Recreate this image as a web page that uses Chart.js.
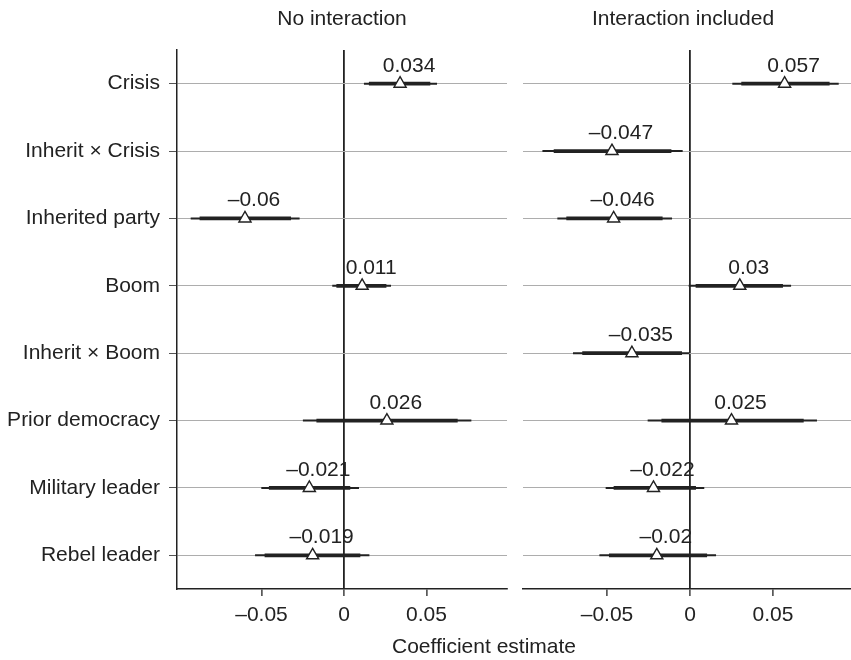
<!DOCTYPE html>
<html>
<head>
<meta charset="utf-8">
<script src="https://cdn.jsdelivr.net/npm/chart.js@4.4.1/dist/chart.umd.min.js"></script>
<style>
  body { margin: 0; background: #fff; overflow: hidden; }
  #wrap { position: relative; width: 851px; height: 660px; }
  canvas { position: absolute; top: 0; }
  #xtitle { position: absolute; left: 484px; top: 633px; transform: translateX(-50%);
            font: 21px 'Liberation Sans', Arial, sans-serif; color: #222; line-height: 25px; white-space: nowrap; }
</style>
</head>
<body>
<div id="wrap">
  <canvas id="left" width="510" height="660" style="left:0"></canvas>
  <canvas id="right" width="341" height="660" style="left:510px"></canvas>
  <div id="xtitle">Coefficient estimate</div>
</div>
<script>
// rows, top to bottom
const terms = ['Crisis', 'Inherit × Crisis', 'Inherited party', 'Boom', 'Inherit × Boom',
               'Prior democracy', 'Military leader', 'Rebel leader'];
const xTicks = [-0.05, 0, 0.05];

// model without interaction
const estNoInt = [0.034, null, -0.06, 0.011, null, 0.026, -0.021, -0.019];
const ci90NoInt = [[0.0153, 0.0521], null, [-0.0873, -0.0323], [-0.0044, 0.0255], null,
                   [-0.0165, 0.0687], [-0.0453, 0.0036], [-0.0479, 0.0097]];
const ci95NoInt = [[0.0123, 0.0562], null, [-0.0927, -0.0271], [-0.0069, 0.0283], null,
                   [-0.0247, 0.077], [-0.0499, 0.0089], [-0.0537, 0.0152]];

// model with interaction
const estInt = [0.057, -0.047, -0.046, 0.03, -0.035, 0.025, -0.022, -0.02];
const ci90Int = [[0.0311, 0.0839], [-0.0819, -0.0114], [-0.0743, -0.0167], [0.0036, 0.0558],
                 [-0.0647, -0.005], [-0.017, 0.0683], [-0.0458, 0.0034], [-0.0486, 0.0101]];
const ci95Int = [[0.0257, 0.0894], [-0.0887, -0.0046], [-0.0797, -0.011], [-0.0006, 0.0607],
                 [-0.0703, 0.0], [-0.0253, 0.0763], [-0.0506, 0.0084], [-0.0544, 0.0155]];

const ink = '#222';
Chart.defaults.font.family = "'Liberation Sans', Arial, sans-serif";
Chart.defaults.font.size = 21;
Chart.defaults.color = ink;

function fmt(v) {
  if (v === 0) return '0';
  return (v < 0 ? '\u2013' : '') + Math.abs(v);
}

// panel title + value labels above the markers
const decor = {
  id: 'decor',
  afterDatasetsDraw(chart, args, opts) {
    const ctx = chart.ctx, a = chart.chartArea;
    ctx.save();
    ctx.fillStyle = ink;
    ctx.font = "21px 'Liberation Sans', Arial, sans-serif";
    ctx.textAlign = 'center';
    ctx.textBaseline = 'middle';
    ctx.fillText(opts.title, (a.left + a.right) / 2 + opts.titleShift, 19);
    ctx.textBaseline = 'alphabetic';
    const meta = chart.getDatasetMeta(0);
    meta.data.forEach((pt, i) => {
      const raw = chart.data.datasets[0].data[i];
      ctx.fillText(fmt(raw.x), pt.x + 9, pt.y - 12);
    });
    ctx.restore();
  }
};

function makePanel(id, est, ci90, ci95, title, first) {
  const pts = [];
  est.forEach((v, i) => { if (v !== null) pts.push({ x: v, y: terms[i] }); });
  return new Chart(document.getElementById(id), {
    type: 'bar',
    data: {
      labels: terms,
      datasets: [
        { type: 'scatter', data: pts, pointStyle: 'triangle', radius: 7, hoverRadius: 7,
          backgroundColor: '#fff', borderColor: ink, borderWidth: 1.4 },
        { data: ci90, backgroundColor: ink, barThickness: 3.2, borderWidth: 0 },
        { data: ci95, backgroundColor: ink, barThickness: 1.4, borderWidth: 0 }
      ]
    },
    options: {
      indexAxis: 'y',
      responsive: false,
      animation: false,
      grouped: false,
      layout: { autoPadding: false, padding: { top: 50, left: 0, right: first ? 3 : 0, bottom: 0 } },
      plugins: { legend: { display: false }, tooltip: { enabled: false },
                 decor: { title: title, titleShift: first ? 0 : -4 } },
      scales: {
        x: {
          type: 'linear',
          min: first ? -0.1012 : -0.1006,
          max: first ? 0.0988 : 0.097,
          afterBuildTicks: s => { s.ticks = xTicks.map(v => ({ value: v })); },
          afterFit: s => { s.height = 71; },
          ticks: { callback: v => fmt(v), padding: 7, maxRotation: 0 },
          grid: { color: c => (c.tick && c.tick.value === 0) ? ink : 'rgba(0,0,0,0)',
                  lineWidth: 1.8, tickColor: ink, tickLength: 7, tickWidth: 1.3 },
          border: { display: true, color: ink, width: 1.5 }
        },
        y: {
          type: 'category',
          offset: true,
          afterFit: s => { s.width = first ? 177 : 13; },
          ticks: { display: first, padding: 9 },
          grid: { offset: false, color: '#adadad', lineWidth: 1, drawTicks: first,
                  tickColor: '#555', tickLength: 8 },
          border: { display: first, color: ink, width: 1.5 }
        }
      }
    },
    plugins: [decor]
  });
}

makePanel('left', estNoInt, ci90NoInt, ci95NoInt, 'No interaction', true);
makePanel('right', estInt, ci90Int, ci95Int, 'Interaction included', false);
</script>
</body>
</html>
